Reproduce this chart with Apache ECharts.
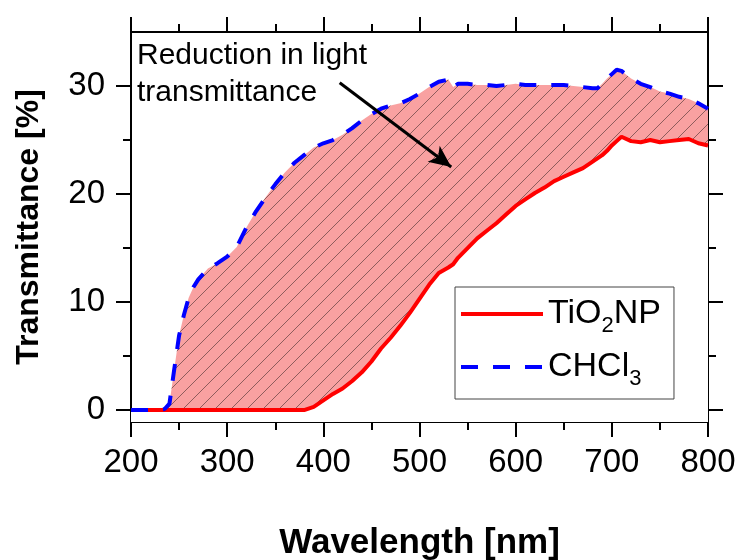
<!DOCTYPE html>
<html>
<head>
<meta charset="utf-8">
<script src="https://cdn.jsdelivr.net/npm/echarts@6/dist/echarts.min.js"></script>
<style>
  html, body { margin: 0; padding: 0; background: #fff; }
  #chart { width: 740px; height: 560px; }
</style>
</head>
<body>
<div id="chart"></div>
<script>
var wavelengths = [200, 210, 220, 230, 235, 240, 245, 250, 255, 260, 265, 270, 280, 290, 300,
  310, 320, 330, 340, 350, 360, 370, 380, 390, 400, 410, 420, 430, 440, 450, 460, 470, 480,
  490, 500, 510, 520, 530, 535, 540, 550, 560, 570, 580, 590, 600, 610, 620, 630, 640, 650,
  660, 670, 680, 685, 690, 695, 700, 705, 710, 720, 730, 740, 750, 760, 770, 780, 790, 800];

var tio2np = [0, 0, 0, 0, 0, 0, 0, 0, 0, 0, 0, 0, 0, 0, 0,
  0, 0, 0, 0, 0, 0, 0, 0, 0.3, 0.9, 1.5, 2.0, 2.7, 3.5, 4.5, 5.7, 6.7, 7.8,
  9.0, 10.3, 11.6, 12.7, 13.2, 13.5, 14.1, 15.0, 15.9, 16.6, 17.3, 18.1, 18.9, 19.5, 20.1, 20.6, 21.2, 21.6,
  22.0, 22.4, 23.0, 23.3, 23.6, 24.0, 24.5, 24.9, 25.3, 24.9, 24.8, 25.0, 24.8, 24.9, 25.0, 25.1, 24.7, 24.5];

var chcl3 = [0, 0, 0, 0.05, 0.1, 0.6, 3.8, 6.9, 8.8, 10.4, 11.4, 12.1, 13.1, 13.6, 14.2,
  15.1, 16.9, 18.4, 19.7, 20.9, 22.0, 22.9, 23.6, 24.3, 24.7, 25.0, 25.5, 26.1, 26.8, 27.4, 27.9, 28.2, 28.4,
  28.8, 29.3, 29.9, 30.4, 30.6, 29.9, 30.2, 30.2, 30.1, 30.1, 30.0, 30.1, 30.2, 30.1, 30.1, 30.1, 30.1, 30.1,
  30.0, 29.9, 29.8, 29.8, 30.2, 30.7, 31.1, 31.5, 31.4, 30.7, 30.2, 29.9, 29.5, 29.3, 29.0, 28.8, 28.4, 27.9];

var yMajor = [0, 10, 20, 30];
var yMinor = [5, 15, 25];
var arrowFrom = [417, 30.3];
var arrowTo = [533, 22.5];

var font = "'Liberation Sans', Arial, sans-serif";

function hatch() {
  var c = document.createElement('canvas');
  c.width = 16;
  c.height = 16;
  var g = c.getContext('2d');
  g.fillStyle = '#f9a1a1';
  g.fillRect(0, 0, 16, 16);
  g.strokeStyle = 'rgba(105,70,70,0.75)';
  g.lineWidth = 1;
  g.beginPath();
  g.moveTo(-2, 18);
  g.lineTo(18, -2);
  g.stroke();
  return c;
}

var lower = wavelengths.map(function (w, i) { return [w, tio2np[i]]; });
var upper = wavelengths.map(function (w, i) { return [w, chcl3[i]]; });

function xAxis(pos, labels) {
  return {
    type: 'value', position: pos, min: 200, max: 800, interval: 100,
    axisLine: { show: true, onZero: false, lineStyle: { color: '#000', width: 2 } },
    axisTick: { show: true, length: 15, lineStyle: { color: '#000', width: 2 } },
    minorTick: { show: true, splitNumber: 2, length: 8, lineStyle: { color: '#000', width: 2 } },
    splitLine: { show: false },
    minorSplitLine: { show: false },
    axisLabel: { show: labels, color: '#000', fontFamily: font, fontSize: 33, margin: 24 },
    name: labels ? 'Wavelength [nm]' : '',
    nameLocation: 'middle',
    nameGap: 104,
    nameTextStyle: { color: '#000', fontFamily: font, fontSize: 35, fontWeight: 'bold' }
  };
}

function yAxis(pos, ticks, len, line, labels) {
  return {
    type: 'value', position: pos, min: -1.1, max: 35,
    axisLine: { show: line, onZero: false, lineStyle: { color: '#000', width: 2 } },
    axisTick: { show: true, length: len, customValues: ticks, lineStyle: { color: '#000', width: 2 } },
    splitLine: { show: false },
    axisLabel: { show: labels, customValues: ticks, color: '#000', fontFamily: font, fontSize: 33, margin: 26 },
    name: labels ? 'Transmittance [%]' : '',
    nameLocation: 'middle',
    nameGap: 86,
    nameTextStyle: { color: '#000', fontFamily: font, fontSize: 32, fontWeight: 'bold' }
  };
}

var chart = echarts.init(document.getElementById('chart'), null, { renderer: 'canvas' });
chart.setOption({
  animation: false,
  backgroundColor: '#fff',
  grid: { left: 131, right: 32, top: 32, bottom: 138, outerBoundsMode: 'none', containLabel: false },
  xAxis: [xAxis('bottom', true), xAxis('top', false)],
  yAxis: [
    yAxis('left', yMajor, 15, true, true),
    yAxis('left', yMinor, 8, false, false),
    yAxis('right', yMajor, 15, true, false),
    yAxis('right', yMinor, 8, false, false)
  ],
  legend: {
    orient: 'vertical',
    left: 455,
    top: 287,
    padding: [10, 13, 9, 4],
    itemGap: 13,
    itemWidth: 82,
    itemHeight: 14,
    backgroundColor: '#fff',
    borderColor: '#444',
    borderWidth: 1,
    itemStyle: { opacity: 0 },
    lineStyle: { width: 4 },
    data: ['TiO2NP', 'CHCl3'],
    formatter: function (name) {
      return name === 'TiO2NP' ? '{a|TiO}{s|2}{a|NP}' : '{a|CHCl}{s|3}';
    },
    textStyle: {
      color: '#000',
      rich: {
        a: { fontFamily: font, fontSize: 34, lineHeight: 46, color: '#000' },
        s: { fontFamily: font, fontSize: 22, lineHeight: 22, verticalAlign: 'bottom', color: '#000' }
      }
    }
  },
  graphic: [{
    type: 'text',
    left: 137,
    top: 37,
    z: 100,
    style: {
      text: 'Reduction in light\ntransmittance',
      fontFamily: font,
      fontSize: 30,
      lineHeight: 37,
      fill: '#000'
    }
  }],
  series: [
    {
      // hatched fill under the CHCl3 curve
      name: 'fill', type: 'line', data: upper,
      symbol: 'none', silent: true,
      lineStyle: { width: 0, opacity: 0 },
      areaStyle: { color: { image: hatch(), repeat: 'repeat' }, opacity: 1 }
    },
    {
      // white under the TiO2NP curve, leaves only the band between the two
      name: 'mask', type: 'line', data: lower,
      symbol: 'none', silent: true,
      lineStyle: { width: 0, opacity: 0 },
      areaStyle: { color: '#fff', opacity: 1, origin: 'start' }
    },
    {
      name: 'TiO2NP', type: 'line', data: lower,
      symbol: 'none',
      color: '#ff0000',
      lineStyle: { color: '#ff0000', width: 4 }
    },
    {
      name: 'CHCl3', type: 'line', data: upper,
      symbol: 'none',
      color: '#0000ff',
      lineStyle: { color: '#0000ff', width: 4, type: [17, 15] },
      markLine: {
        silent: true,
        symbol: ['none', 'arrow'],
        symbolSize: [15, 22],
        label: { show: false },
        lineStyle: { color: '#000', width: 3, type: 'solid' },
        data: [[{ coord: arrowFrom }, { coord: arrowTo }]]
      }
    }
  ]
});
</script>
</body>
</html>
